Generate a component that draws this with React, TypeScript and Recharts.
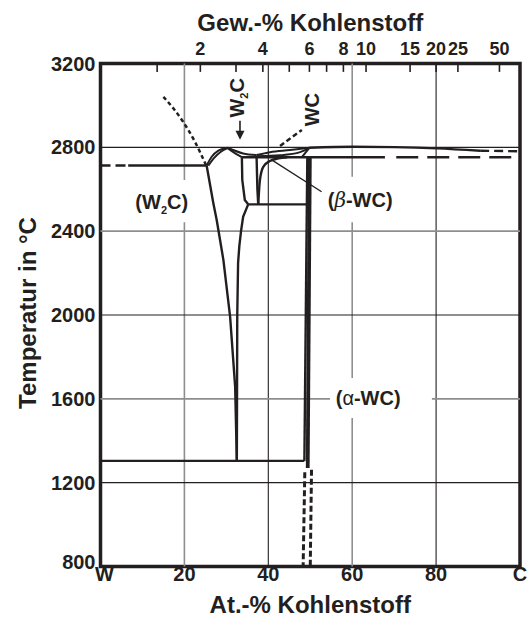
import React from "react";
import {
  ComposedChart,
  Line,
  XAxis,
  YAxis,
  ReferenceLine,
  ReferenceDot,
  ReferenceArea,
} from "recharts";

const INK = "#231f20";
const GRAY = "#8e8e8e";
const FONT = "'Liberation Sans', Arial, Helvetica, sans-serif";

// bottom axis: At.-% Kohlenstoff
const atTicks = [0, 20, 40, 60, 80, 100];
const atLabels = ["W", "20", "40", "60", "80", "C"];
// top axis: Gew.-% Kohlenstoff, tick positions read in At.-%
const wtTickPos = [13.5, 23.8, 32.3, 38.7, 45.0, 49.8, 53.9, 57.9, 63.3, 73.8, 80.0, 85.2, 95.1];
const wtTickLabels = ["", "2", "", "4", "", "6", "", "8", "10", "15", "20", "25", "50"];
const tempTicks = [800, 1200, 1600, 2000, 2400, 2800, 3200];

// phase boundaries (at = At.-% C, T = °C)
const eutecticWDashed = [{ at: 0, T: 2713 }, { at: 6.6, T: 2713 }];
const eutecticW = [{ at: 6.6, T: 2713 }, { at: 25.3, T: 2713 }];
const liquidusW = [
  { at: 15.0, T: 3041 }, { at: 17.4, T: 2985 }, { at: 19.7, T: 2922 },
  { at: 22.5, T: 2827 }, { at: 25.2, T: 2713 },
];
const w2cLiqLeft = [{ at: 25.3, T: 2713 }, { at: 26.5, T: 2755 }, { at: 28.1, T: 2784 }, { at: 30.3, T: 2798 }];
const w2cSolLeft = [{ at: 25.7, T: 2713 }, { at: 27.1, T: 2750 }, { at: 28.7, T: 2779 }, { at: 30.3, T: 2796 }];
const w2cLiqRight = [{ at: 30.3, T: 2798 }, { at: 34.0, T: 2771 }, { at: 37.2, T: 2763 }];
const w2cSolRight = [{ at: 30.3, T: 2796 }, { at: 32.2, T: 2770 }, { at: 33.7, T: 2753 }];
const w2cBoundLeft = [
  { at: 25.3, T: 2713 }, { at: 26.9, T: 2533 }, { at: 27.7, T: 2453 }, { at: 28.5, T: 2358 },
  { at: 29.3, T: 2262 }, { at: 30.9, T: 1991 }, { at: 32.1, T: 1657 }, { at: 32.5, T: 1304 },
];
const w2cBoundRightUp = [{ at: 33.7, T: 2753 }, { at: 33.8, T: 2644 }, { at: 34.4, T: 2549 }, { at: 35.2, T: 2528 }];
const w2cBoundRightLow = [
  { at: 35.2, T: 2528 }, { at: 34.0, T: 2469 }, { at: 33.5, T: 2400 }, { at: 33.1, T: 2330 },
  { at: 32.8, T: 2250 }, { at: 32.6, T: 2000 }, { at: 32.5, T: 1304 },
];
const eutectoid1300 = [{ at: 0, T: 1304 }, { at: 48.6, T: 1304 }];
const line2752 = [{ at: 33.7, T: 2753 }, { at: 67.8, T: 2753 }];
const line2752Dashed = [{ at: 70.5, T: 2753 }, { at: 100, T: 2753 }];
const eutectoid2528 = [{ at: 35.2, T: 2528 }, { at: 49.3, T: 2528 }];
const betaLeft = [{ at: 37.2, T: 2760 }, { at: 37.4, T: 2600 }, { at: 37.6, T: 2528 }];
const betaRight = [
  { at: 37.6, T: 2528 }, { at: 38.0, T: 2644 }, { at: 38.8, T: 2707 },
  { at: 40.4, T: 2735 }, { at: 42.4, T: 2747 }, { at: 44.5, T: 2752 },
];
const liqMid = [{ at: 37.2, T: 2763 }, { at: 40.4, T: 2777 }, { at: 45.2, T: 2787 }, { at: 49.8, T: 2798 }];
const solMid = [{ at: 37.2, T: 2757 }, { at: 42.8, T: 2762 }, { at: 47.6, T: 2777 }, { at: 49.8, T: 2797 }];
const connector = [{ at: 48.0, T: 2753 }, { at: 49.8, T: 2797 }];
const liqC = [
  { at: 49.8, T: 2798 }, { at: 60.3, T: 2803 }, { at: 70.0, T: 2801 },
  { at: 80.1, T: 2795 }, { at: 90.5, T: 2784 },
];
const liqCDashed = [{ at: 90.5, T: 2784 }, { at: 100, T: 2781 }];
const wcThin = [{ at: 49.3, T: 2753 }, { at: 48.6, T: 1304 }];
const wcThick = [{ at: 49.9, T: 2753 }, { at: 49.4, T: 1270 }];
const wcDashLeft = [{ at: 48.7, T: 1250 }, { at: 48.3, T: 800 }];
const wcDashRight = [{ at: 50.3, T: 1262 }, { at: 50.0, T: 800 }];
const wcDotted = [{ at: 42.8, T: 2806 }, { at: 48.0, T: 2883 }];
const betaLeader = [{ at: 40.8, T: 2740 }, { at: 52.7, T: 2588 }];

type Pt = { at: number; T: number };
const solid = { dash: undefined as string | undefined, width: 2.4, curve: "linear" };
const phaseLines: { key: string; data: Pt[]; dash?: string; width: number; curve: string }[] = [
  { key: "euWd", data: eutecticWDashed, ...solid, dash: "10 5" },
  { key: "euW", data: eutecticW, ...solid },
  { key: "liqW", data: liquidusW, ...solid, dash: "4 3", width: 2.5, curve: "monotoneX" },
  { key: "w2cLL", data: w2cLiqLeft, ...solid, width: 2, curve: "monotoneX" },
  { key: "w2cSL", data: w2cSolLeft, ...solid, width: 2, curve: "monotoneX" },
  { key: "w2cLR", data: w2cLiqRight, ...solid, width: 2, curve: "monotoneX" },
  { key: "w2cSR", data: w2cSolRight, ...solid, width: 2, curve: "monotoneX" },
  { key: "w2cBL", data: w2cBoundLeft, ...solid },
  { key: "w2cBRU", data: w2cBoundRightUp, ...solid },
  { key: "w2cBRL", data: w2cBoundRightLow, ...solid },
  { key: "eu1300", data: eutectoid1300, ...solid },
  { key: "l2752", data: line2752, ...solid },
  { key: "l2752d", data: line2752Dashed, ...solid, dash: "22 9" },
  { key: "eu2528", data: eutectoid2528, ...solid },
  { key: "betaL", data: betaLeft, ...solid },
  { key: "betaR", data: betaRight, ...solid, curve: "monotoneX" },
  { key: "liqM", data: liqMid, ...solid, width: 2, curve: "monotoneX" },
  { key: "solM", data: solMid, ...solid, width: 2, curve: "monotoneX" },
  { key: "conn", data: connector, ...solid, width: 2 },
  { key: "liqC", data: liqC, ...solid, curve: "monotoneX" },
  { key: "liqCd", data: liqCDashed, ...solid, dash: "9 5" },
  { key: "wcThin", data: wcThin, ...solid },
  { key: "wcThick", data: wcThick, ...solid, width: 3.8 },
  { key: "wcDL", data: wcDashLeft, ...solid, dash: "6 3", width: 3 },
  { key: "wcDR", data: wcDashRight, ...solid, dash: "6 3", width: 3 },
  { key: "wcDot", data: wcDotted, ...solid, dash: "5 3", width: 2.5 },
  { key: "leader", data: betaLeader, ...solid, width: 1.3 },
];

// grid lines with gaps behind the phase labels
const gridV = [
  { x: 20, color: GRAY, gaps: [[2443, 2644]] },
  { x: 40, color: INK, gaps: [] as number[][] },
  { x: 60, color: GRAY, gaps: [[1508, 1699], [2443, 2660]] },
  { x: 80, color: INK, gaps: [] as number[][] },
];
const gridH = [
  { y: 1200, color: INK, gaps: [] as number[][] },
  { y: 1600, color: GRAY, gaps: [[54.7, 79]] },
  { y: 2000, color: INK, gaps: [] as number[][] },
  { y: 2400, color: GRAY, gaps: [] as number[][] },
  { y: 2800, color: INK, gaps: [] as number[][] },
];

function pieces(a: number, b: number, gaps: number[][]) {
  const out: number[][] = [];
  let s = a;
  gaps.forEach(([g0, g1]) => {
    out.push([s, g0]);
    s = g1;
  });
  out.push([s, b]);
  return out;
}

const bold = { fontFamily: FONT, fontWeight: 700, fill: INK };

function PhaseLabel({ cx, cy, kind }: { cx: number; cy: number; kind: string }) {
  if (kind === "w2c") {
    return (
      <text x={cx} y={cy} dy="0.35em" textAnchor="middle" fontSize={20} {...bold}>
        (W<tspan fontSize={11} dy={5}>2</tspan>
        <tspan dy={-5}>C)</tspan>
      </text>
    );
  }
  if (kind === "beta") {
    return (
      <text x={cx} y={cy} dy="0.35em" textAnchor="middle" fontSize={20} {...bold}>
        (<tspan fontStyle="italic" fontWeight={400} fontFamily="'DejaVu Serif', serif">β</tspan>-WC)
      </text>
    );
  }
  if (kind === "alpha") {
    return (
      <text x={cx} y={cy} dy="0.35em" textAnchor="middle" fontSize={20} {...bold}>
        (<tspan fontWeight={400}>α</tspan>-WC)
      </text>
    );
  }
  if (kind === "w2cV") {
    return (
      <text
        x={cx}
        y={cy}
        textAnchor="middle"
        fontSize={20}
        transform={`rotate(-90 ${cx} ${cy})`}
        {...bold}
      >
        W<tspan fontSize={11} dy={4}>2</tspan>
        <tspan dy={-4}>C</tspan>
      </text>
    );
  }
  if (kind === "arrow") {
    return (
      <g>
        <line x1={cx} y1={cy - 19} x2={cx} y2={cy - 7} stroke={INK} strokeWidth={1.6} />
        <polygon points={`${cx - 4.5},${cy - 9} ${cx + 4.5},${cy - 9} ${cx},${cy}`} fill={INK} />
      </g>
    );
  }
  return (
    <text
      x={cx}
      y={cy}
      textAnchor="middle"
      fontSize={20}
      transform={`rotate(-90 ${cx} ${cy})`}
      {...bold}
    >
      WC
    </text>
  );
}

const annotations = [
  { kind: "w2c", at: 14.6, T: 2540 },
  { kind: "beta", at: 61.9, T: 2548 },
  { kind: "alpha", at: 63.8, T: 1602 },
  { kind: "w2cV", at: 34.3, T: 3036 },
  { kind: "arrow", at: 33.25, T: 2836 },
  { kind: "wcV", at: 52.0, T: 2980 },
];

// "800" sits a little high and "W" a little right, so the corner labels stay apart
function TempTick(props: any) {
  const v = props.payload.value;
  return (
    <text x={props.x} y={props.y + (v === 800 ? -5 : 0)} dy="0.355em" textAnchor="end" fontSize={20} {...bold}>
      {v}
    </text>
  );
}

function AtTick(props: any) {
  const v = props.payload.value;
  return (
    <text x={props.x + (v === 0 ? 4 : 0)} y={props.y} dy="0.71em" textAnchor="middle" fontSize={20} {...bold}>
      {atLabels[atTicks.indexOf(v)]}
    </text>
  );
}

export default function App() {
  return (
    <div style={{ position: "absolute", left: 0, top: 0, width: 530, height: 618, background: "#fff" }}>
      <ComposedChart width={530} height={618} margin={{ top: 0, right: 10, bottom: 0, left: 0 }}>
        <XAxis
          xAxisId="at"
          dataKey="at"
          type="number"
          domain={[0, 100]}
          ticks={atTicks}
          height={51.5}
          axisLine={false}
          tickLine={false}
          tickSize={0}
          tickMargin={0}
          interval={0}
          allowDataOverflow
          tick={<AtTick />}
          label={(p: any) => {
            const vb = p.viewBox;
            return (
              <text x={vb.x + vb.width / 2} y={vb.y + vb.height - 5} textAnchor="middle" fontSize={24} {...bold}>
                At.-% Kohlenstoff
              </text>
            );
          }}
        />
        <XAxis
          xAxisId="wt"
          orientation="top"
          type="number"
          domain={[0, 100]}
          height={63.5}
          axisLine={false}
          tickLine={false}
          tick={false}
          allowDataOverflow
          label={(p: any) => {
            const vb = p.viewBox;
            return (
              <text x={vb.x + vb.width / 2} y={31} textAnchor="middle" fontSize={24} {...bold}>
                Gew.-% Kohlenstoff
              </text>
            );
          }}
        />
        <YAxis
          yAxisId="T"
          type="number"
          domain={[800, 3200]}
          ticks={tempTicks}
          width={100.5}
          axisLine={false}
          tickLine={false}
          tickSize={0}
          tickMargin={5}
          interval={0}
          allowDataOverflow
          tick={<TempTick />}
          label={() => (
            <text x={36} y={313} textAnchor="middle" fontSize={24} transform="rotate(-90 36 313)" {...bold}>
              Temperatur in °C
            </text>
          )}
        />

        {gridV.map((g) =>
          pieces(800, 3200, g.gaps).map(([a, b], i) => (
            <ReferenceLine
              key={`v${g.x}-${i}`}
              xAxisId="at"
              yAxisId="T"
              segment={[{ x: g.x, y: a }, { x: g.x, y: b }]}
              stroke={g.color}
              strokeWidth={g.color === GRAY ? 1.6 : 1.1}
            />
          ))
        )}
        {gridH.map((g) =>
          pieces(0, 100, g.gaps).map(([a, b], i) => (
            <ReferenceLine
              key={`h${g.y}-${i}`}
              xAxisId="at"
              yAxisId="T"
              segment={[{ x: a, y: g.y }, { x: b, y: g.y }]}
              stroke={g.color}
              strokeWidth={g.color === GRAY ? 1.6 : 1.1}
            />
          ))
        )}
        {wtTickPos.map((p) => (
          <ReferenceLine
            key={`t${p}`}
            xAxisId="at"
            yAxisId="T"
            segment={[{ x: p, y: 3200 }, { x: p, y: 3160 }]}
            stroke={INK}
            strokeWidth={1.6}
          />
        ))}
        {wtTickPos.map((p, i) =>
          wtTickLabels[i] ? (
            <ReferenceDot
              key={`tl${p}`}
              xAxisId="at"
              yAxisId="T"
              x={p}
              y={3200}
              r={1}
              ifOverflow="visible"
              shape={(s: any) => (
                <text x={s.cx} y={s.cy - 8.5} textAnchor="middle" fontSize={18} {...bold}>
                  {wtTickLabels[i]}
                </text>
              )}
            />
          ) : null
        )}

        {phaseLines.map((l) => (
          <Line
            key={l.key}
            xAxisId="at"
            yAxisId="T"
            data={l.data}
            dataKey="T"
            type={l.curve as any}
            stroke={INK}
            strokeWidth={l.width}
            strokeDasharray={l.dash}
            strokeLinecap="butt"
            dot={false}
            activeDot={false}
            isAnimationActive={false}
          />
        ))}

        {annotations.map((a) => (
          <ReferenceDot
            key={a.kind}
            xAxisId="at"
            yAxisId="T"
            x={a.at}
            y={a.T}
            r={1}
            shape={(p: any) => <PhaseLabel cx={p.cx} cy={p.cy} kind={a.kind} />}
          />
        ))}

        <ReferenceArea
          xAxisId="at"
          yAxisId="T"
          x1={0}
          x2={100}
          y1={800}
          y2={3200}
          fill="none"
          fillOpacity={0}
          stroke={INK}
          strokeWidth={3.5}
        />
      </ComposedChart>
    </div>
  );
}
